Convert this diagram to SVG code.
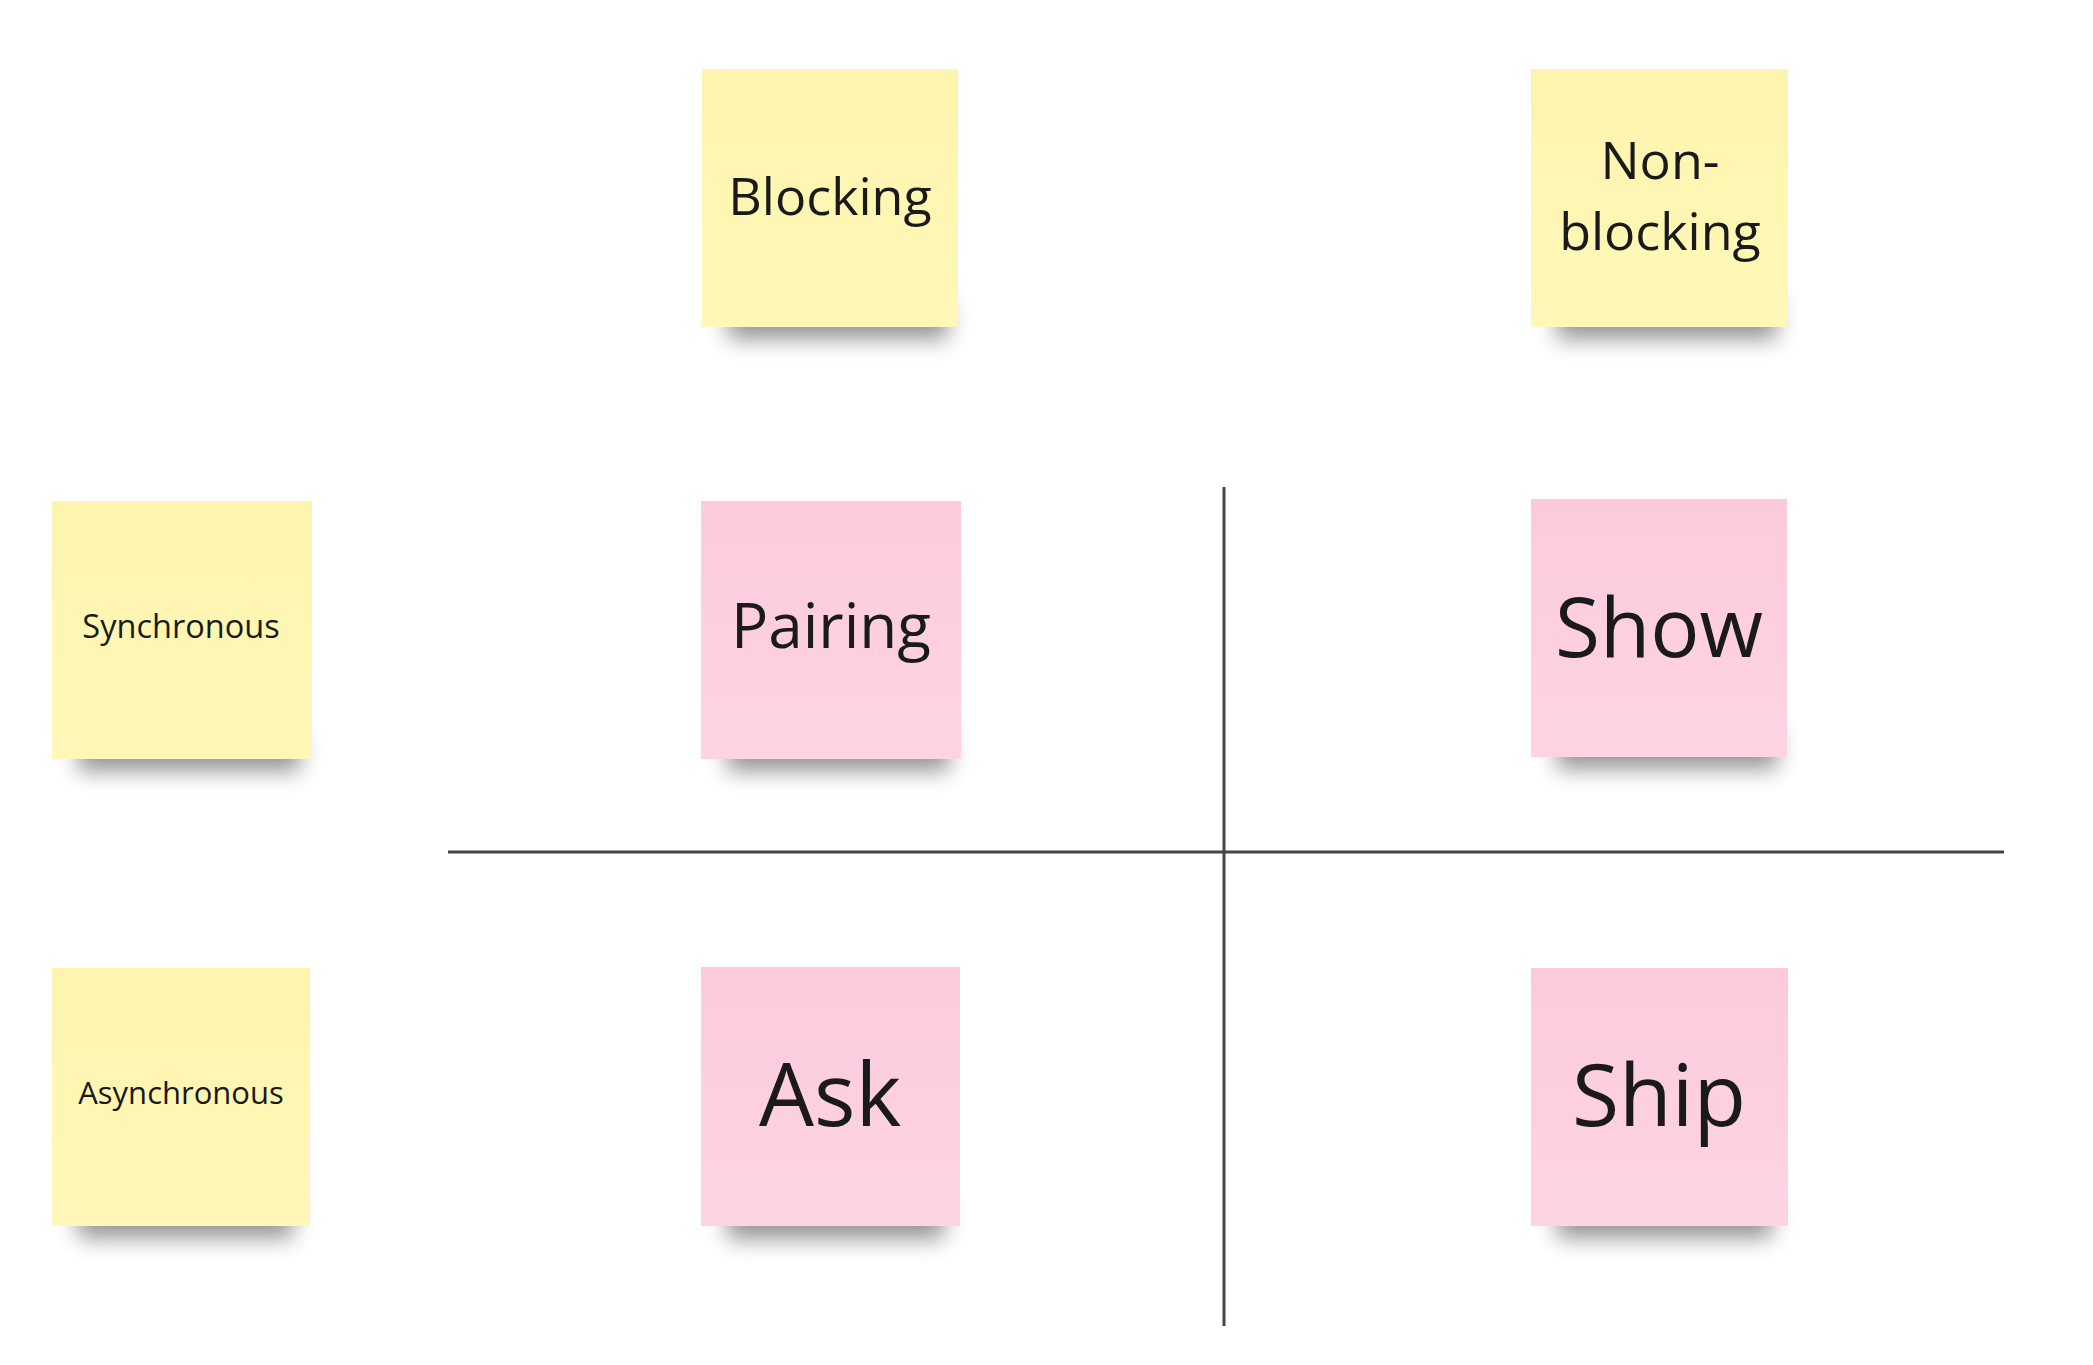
<svg xmlns="http://www.w3.org/2000/svg" width="2093" height="1365" viewBox="0 0 2093 1365">
<style>
.t{font-family:"Open Sans","Noto Sans","Liberation Sans",sans-serif;fill:#1a1a1a;text-anchor:middle}
.y{fill:url(#gy)}
.p{fill:url(#gp)}
.sh{fill:#000;opacity:0.42;filter:url(#blur)}
.ln{stroke:#444;stroke-width:3;fill:none}
</style>
<defs>
<linearGradient id="gy" x1="0" y1="0" x2="0" y2="1">
<stop offset="0" stop-color="#fdf4ad"/>
<stop offset="1" stop-color="#fef8b8"/>
</linearGradient>
<linearGradient id="gp" x1="0" y1="0" x2="0" y2="1">
<stop offset="0" stop-color="#fccadb"/>
<stop offset="1" stop-color="#fed4e3"/>
</linearGradient>
<filter id="blur" x="-20%" y="-60%" width="140%" height="220%">
<feGaussianBlur stdDeviation="11"/>
</filter>
</defs>
<rect width="2093" height="1365" fill="#ffffff"/>
<g id="connectors">
<line class="ln" x1="1224" y1="487" x2="1224" y2="1326"/>
<line class="ln" x1="448" y1="852" x2="2004" y2="852"/>
</g>
<g id="blocking">
<rect class="sh" x="728" y="297" width="220" height="42"/>
<rect class="y" x="702" y="69" width="256" height="258"/>
<text class="t" x="830" y="215" font-size="52">Blocking</text>
</g>
<g id="non-blocking">
<rect class="sh" x="1557" y="297" width="220" height="42"/>
<rect class="y" x="1531" y="69" width="257" height="258"/>
<text class="t" x="1660" y="179" font-size="52">Non-</text>
<text class="t" x="1660" y="250" font-size="52">blocking</text>
</g>
<g id="synchronous">
<rect class="sh" x="78" y="729" width="222" height="42"/>
<rect class="y" x="52" y="501" width="260" height="258"/>
<text class="t" x="181" y="638" font-size="32.5">Synchronous</text>
</g>
<g id="pairing">
<rect class="sh" x="727" y="729" width="222" height="42"/>
<rect class="p" x="701" y="501" width="260" height="258"/>
<text class="t" x="831" y="648" font-size="62">Pairing</text>
</g>
<g id="show">
<rect class="sh" x="1557" y="727" width="220" height="42"/>
<rect class="p" x="1531" y="499" width="256" height="258"/>
<text class="t" x="1659" y="657" font-size="82">Show</text>
</g>
<g id="asynchronous">
<rect class="sh" x="78" y="1196" width="215" height="42"/>
<rect class="y" x="52" y="968" width="258" height="258"/>
<text class="t" x="181" y="1104" font-size="31">Asynchronous</text>
</g>
<g id="ask">
<rect class="sh" x="727" y="1197" width="217" height="42"/>
<rect class="p" x="701" y="967" width="259" height="259"/>
<text class="t" x="830" y="1126" font-size="87">Ask</text>
</g>
<g id="ship">
<rect class="sh" x="1557" y="1196" width="215" height="42"/>
<rect class="p" x="1531" y="968" width="257" height="258"/>
<text class="t" x="1659" y="1126" font-size="86">Ship</text>
</g>
</svg>
